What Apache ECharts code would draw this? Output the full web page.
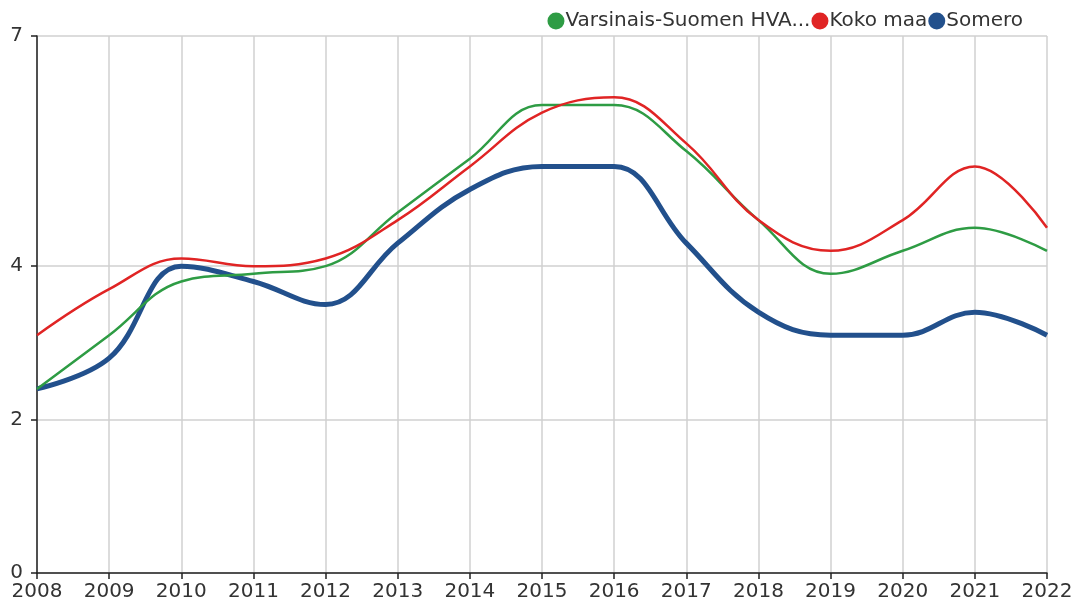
<!DOCTYPE html>
<html>
<head>
<meta charset="utf-8">
<script src="https://cdn.jsdelivr.net/npm/echarts@6/dist/echarts.min.js"></script>
<style>html,body{margin:0;padding:0;background:#fff}#c{width:1076px;height:603px}</style>
</head>
<body>
<div id="c"></div>
<script>
const years = ['2008','2009','2010','2011','2012','2013','2014','2015','2016','2017','2018','2019','2020','2021','2022'];
const yTicks = [0, 2, 4, 7];
const nameGreen = 'Varsinais-Suomen HVA...';
const nameRed = 'Koko maa';
const nameBlue = 'Somero';
const greenValues = [2.4, 3.1, 3.8, 3.9, 4.0, 4.7, 5.4, 6.1, 6.1, 5.5, 4.6, 3.9, 4.2, 4.5, 4.2];
const redValues = [3.1, 3.7, 4.1, 4.0, 4.1, 4.6, 5.3, 6.0, 6.2, 5.6, 4.6, 4.2, 4.6, 5.3, 4.5];
const blueValues = [2.4, 2.8, 4.0, 3.8, 3.5, 4.3, 5.0, 5.3, 5.3, 4.3, 3.4, 3.1, 3.1, 3.4, 3.1];

const font = 'DejaVu Sans';
const fs = 20;
const chart = echarts.init(document.getElementById('c'), null, {renderer: 'canvas'});
chart.setOption({
  animation: false,
  textStyle: {fontFamily: font},
  grid: {left: 37, right: 29, top: 36, bottom: 30, containLabel: false},
  legend: {
    data: [nameGreen, nameRed, nameBlue],
    right: 48, top: 6,
    icon: 'circle', itemWidth: 17, itemHeight: 17, itemGap: 1,
    textStyle: {fontFamily: font, fontSize: fs, color: '#333', padding: [0, 0, 0, -4]}
  },
  xAxis: {
    type: 'category', data: years, boundaryGap: false,
    axisLine: {lineStyle: {color: '#222', width: 1.5}},
    axisTick: {show: true, length: 6, lineStyle: {color: '#222', width: 1.5}},
    axisLabel: {fontFamily: font, fontSize: fs, color: '#333', margin: 9},
    splitLine: {show: true, lineStyle: {color: '#d0d0d0', width: 1.5}}
  },
  yAxis: {
    type: 'value', min: 0, max: 7, interval: 1,
    axisLine: {show: true, lineStyle: {color: '#222', width: 1.5}},
    axisTick: {show: true, length: 6, customValues: yTicks, lineStyle: {color: '#222', width: 1.5}},
    axisLabel: {fontFamily: font, fontSize: fs, color: '#333', margin: 14, customValues: yTicks},
    splitLine: {show: true, lineStyle: {color: '#d0d0d0', width: 1.5}}
  },
  series: [
    {name: nameBlue, type: 'line', data: blueValues, smooth: 0.4, showSymbol: false,
     lineStyle: {color: '#22508c', width: 5}, itemStyle: {color: '#22508c'}},
    {name: nameGreen, type: 'line', data: greenValues, smooth: 0.4, showSymbol: false,
     lineStyle: {color: '#2e9c44', width: 2.5}, itemStyle: {color: '#2e9c44'}},
    {name: nameRed, type: 'line', data: redValues, smooth: 0.4, showSymbol: false,
     lineStyle: {color: '#e02424', width: 2.5}, itemStyle: {color: '#e02424'}}
  ]
});
</script>
</body>
</html>
